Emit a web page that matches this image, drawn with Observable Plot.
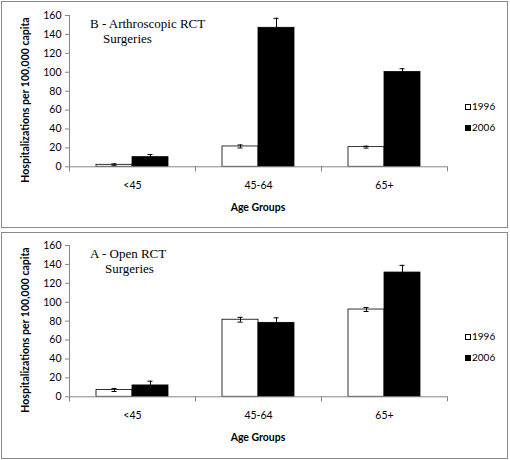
<!DOCTYPE html>
<html><head><meta charset="utf-8">
<script src="https://cdn.jsdelivr.net/npm/d3@7"></script>
<script src="https://cdn.jsdelivr.net/npm/@observablehq/plot@0.6"></script>
<style>
body{margin:0;width:510px;height:460px;position:relative;background:#fff;font-family:Lato,"Open Sans",sans-serif;overflow:hidden;}
.panel{position:absolute;left:0;width:510px;height:230px;}
.panel svg{position:absolute;left:0;top:0;}
.box{position:absolute;left:1px;top:1px;width:507px;height:227px;border:1px solid #8a8a8a;box-sizing:border-box;pointer-events:none;}
.ttl{position:absolute;font-family:"Liberation Serif","DejaVu Serif",serif;font-size:13px;line-height:14px;white-space:nowrap;color:#000;}
.ylab{position:absolute;left:-75px;top:93px;width:200px;height:14px;line-height:14px;text-align:center;font-weight:bold;font-size:10.5px;transform:rotate(-90deg);white-space:nowrap;}
.xlab{position:absolute;left:158px;top:201px;width:200px;text-align:center;font-weight:bold;font-size:10.5px;line-height:12px;}
.leg{position:absolute;left:465px;font-size:10px;line-height:12px;white-space:nowrap;}
.leg span.sw{display:inline-block;width:6px;height:6px;border:1px solid #000;box-sizing:border-box;margin-right:1px;vertical-align:0px;}
</style>
</head><body>
<script>
// ---- data ----
const groups = ["<45", "45-64", "65+"];
const years = ["1996", "2006"];
const yTicks = [0, 20, 40, 60, 80, 100, 120, 140, 160];

// Panel B - Arthroscopic RCT surgeries
const arthro1996 = [2.1, 21.5, 20.8];
const arthro1996Err = [1.0, 1.6, 1.0];
const arthro2006 = [10.2, 147, 100.2];
const arthro2006Err = [2.8, 10, 3.5];

// Panel A - Open RCT surgeries
const open1996 = [7.2, 81.5, 92.3];
const open1996Err = [1.6, 2.5, 2.1];
const open2006 = [12, 78.2, 131.4];
const open2006Err = [4.5, 5.3, 7.6];

const panels = [
  {title: ["B - Arthroscopic RCT", "Surgeries"], v1996: arthro1996, e1996: arthro1996Err, v2006: arthro2006, e2006: arthro2006Err},
  {title: ["A - Open RCT", "Surgeries"], v1996: open1996, e1996: open1996Err, v2006: open2006, e2006: open2006Err}
];

const axisGray = "#868686";

panels.forEach((p, i) => {
  const rows = [];
  groups.forEach((g, j) => {
    rows.push({group: g, year: "1996", value: p.v1996[j], err: p.e1996[j]});
    rows.push({group: g, year: "2006", value: p.v2006[j], err: p.e2006[j]});
  });
  const W = 510, H = 230, mT = 15, mB = 63.7;
  const innerH = H - mT - mB;
  const chart = Plot.plot({
    width: W, height: H,
    marginLeft: 68, marginRight: 62, marginTop: mT, marginBottom: mB,
    style: {fontFamily: "Lato, sans-serif", fontSize: "10.5px", color: "#000", background: "transparent"},
    fx: {domain: groups, padding: 0, label: null},
    x: {domain: years, paddingInner: 0, paddingOuter: 0.735, axis: null},
    y: {domain: [0, 160]},
    color: {domain: years, range: ["#ffffff", "#000000"]},
    marks: [
      Plot.axisY({ticks: yTicks, tickSize: 4, tickPadding: 4, label: null, stroke: axisGray, fill: "#000", fontSize: 10.5}),
      Plot.axisFx({anchor: "bottom", tickSize: 0, tickPadding: 15, label: null, fill: "#000", fontSize: 10.5}),
      Plot.barY(rows, {fx: "group", x: "year", y: "value", fill: "year", stroke: "#000", strokeWidth: 0.8}),
      Plot.ruleX(rows, {fx: "group", x: "year", y1: d => d.value - d.err, y2: d => d.value + d.err, stroke: "#000", strokeWidth: 1}),
      Plot.tickY(rows, {fx: "group", x: "year", y: d => d.value + d.err, stroke: "#000", insetLeft: 15.5, insetRight: 15.5}),
      Plot.tickY(rows, {fx: "group", x: "year", y: d => d.value - d.err, stroke: "#000", insetLeft: 15.5, insetRight: 15.5}),
      Plot.ruleY([0], {stroke: axisGray}),
      Plot.frame({anchor: "left", facetAnchor: "left", stroke: axisGray, insetBottom: -4}),
      Plot.frame({anchor: "left", stroke: axisGray, insetTop: innerH, insetBottom: -4}),
      Plot.frame({anchor: "right", stroke: axisGray, insetTop: innerH, insetBottom: -4})
    ]
  });
  const panel = document.createElement("div");
  panel.className = "panel";
  panel.style.top = (i * 230) + "px";
  panel.appendChild(chart);
  const box = document.createElement("div");
  box.className = "box";
  if (i === 1) { box.style.top = "2px"; }
  panel.appendChild(box);
  const t1 = document.createElement("div");
  t1.className = "ttl"; t1.textContent = p.title[0];
  t1.style.left = "90px"; t1.style.top = "17px";
  const t2 = document.createElement("div");
  t2.className = "ttl"; t2.textContent = p.title[1];
  t2.style.left = (i === 0 ? 103 : 105) + "px"; t2.style.top = "32px";
  panel.appendChild(t1); panel.appendChild(t2);
  const yl = document.createElement("div");
  yl.className = "ylab"; yl.textContent = "Hospitalizations per 100,000 capita";
  panel.appendChild(yl);
  const xl = document.createElement("div");
  xl.className = "xlab"; xl.textContent = "Age Groups";
  panel.appendChild(xl);
  years.forEach((y, k) => {
    const lg = document.createElement("div");
    lg.className = "leg";
    lg.style.top = (100 + k * 20.7) + "px";
    const sw = document.createElement("span");
    sw.className = "sw";
    sw.style.background = k === 0 ? "#fff" : "#000";
    lg.appendChild(sw);
    lg.appendChild(document.createTextNode(y));
    panel.appendChild(lg);
  });
  document.body.appendChild(panel);
});
</script>
</body></html>
